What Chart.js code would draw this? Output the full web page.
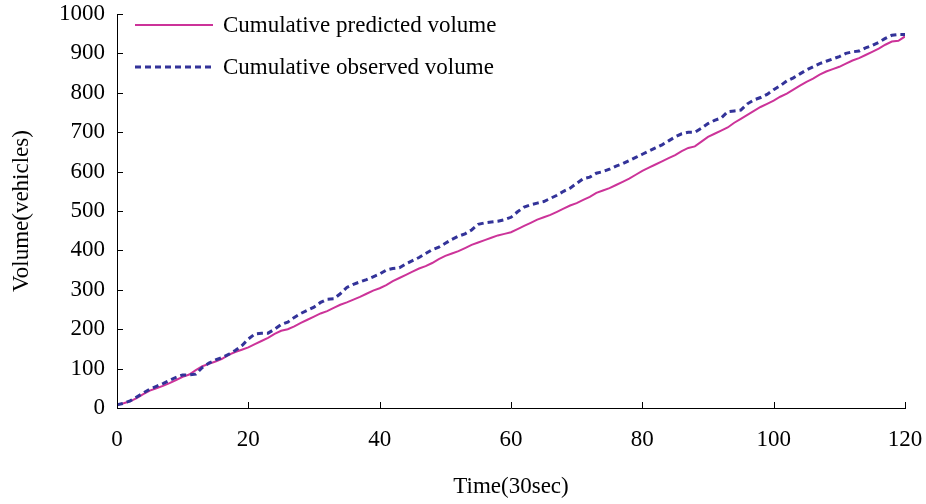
<!DOCTYPE html>
<html>
<head>
<meta charset="utf-8">
<script src="https://cdn.jsdelivr.net/npm/chart.js@4/dist/chart.umd.min.js"></script>
<style>
    body { margin: 0; background: #fff; }
    #graphe { display: block; }
</style>
</head>
<body>
<canvas id="graphe" width="926" height="504"></canvas>
<script>
// Series labels
var S_label_pred = 'Cumulative predicted volume';
var S_label_obs = 'Cumulative observed volume';

// One value per 30 sec step, t = 0 .. 120
var V_predicted = [
    8, 12, 17, 25, 35, 44, 50, 56, 63, 71,
    79, 85, 96, 106, 112, 118, 125, 135, 142, 148,
    154, 162, 170, 178, 188, 196, 200, 207, 216, 224,
    232, 240, 246, 254, 262, 268, 275, 282, 290, 298,
    304, 312, 322, 330, 338, 346, 354, 360, 368, 378,
    386, 392, 398, 406, 414, 420, 426, 432, 438, 442,
    446, 454, 462, 470, 478, 484, 490, 498, 506, 514,
    520, 528, 536, 546, 552, 558, 566, 574, 582, 592,
    602, 610, 618, 626, 634, 642, 652, 660, 664, 676,
    688, 696, 704, 712, 724, 734, 744, 754, 764, 772,
    780, 790, 798, 808, 818, 828, 836, 846, 854, 860,
    866, 874, 882, 888, 896, 904, 912, 922, 930, 932,
    943
];

var V_observed = [
    8, 12, 18, 28, 38, 48, 55, 62, 70, 78,
    84, 84, 86, 103, 114, 122, 128, 136, 146, 158,
    175, 188, 190, 190, 200, 212, 218, 230, 240, 248,
    256, 268, 276, 277, 290, 306, 314, 320, 326, 333,
    340, 350, 354, 356, 366, 374, 382, 392, 402, 408,
    418, 428, 436, 442, 452, 466, 470, 472, 474, 478,
    484, 498, 510, 516, 520, 524, 532, 540, 550, 558,
    570, 582, 586, 596, 600, 606, 614, 620, 628, 636,
    644, 652, 660, 668, 678, 688, 696, 700, 700, 710,
    722, 730, 736, 752, 754, 756, 772, 782, 788, 796,
    808, 818, 830, 838, 848, 858, 866, 874, 880, 886,
    892, 900, 904, 906, 914, 920, 928, 938, 946, 948,
    948
];

// Axes
var I_x_min = 0, I_x_max = 120, I_x_step = 20;
var I_y_min = 0, I_y_max = 1000, I_y_step = 100;
var S_x_title = 'Time(30sec)';
var S_y_title = 'Volume(vehicles)';

var S_font = '"Liberation Serif", "DejaVu Serif", serif';
var I_font_size = 23;

function F_toPoints(V_list){
    return V_list.map(function(I_val, I_index){ return { x: I_index, y: I_val }; });
}

// Ticks drawn inside the plot, like the original
var O_innerTicks = {
    id: 'innerTicks',
    afterDraw: function(O_chart){
        var O_ctx = O_chart.ctx;
        var O_xs = O_chart.scales.x;
        var O_ys = O_chart.scales.y;
        O_ctx.save();
        O_ctx.strokeStyle = '#000';
        O_ctx.lineWidth = 1;
        O_ctx.beginPath();
        O_xs.ticks.forEach(function(O_t){
            var I_px = Math.round(O_xs.getPixelForValue(O_t.value)) + 0.5;
            O_ctx.moveTo(I_px, O_xs.top);
            O_ctx.lineTo(I_px, O_xs.top - 6);
        });
        O_ys.ticks.forEach(function(O_t){
            var I_py = Math.round(O_ys.getPixelForValue(O_t.value)) + 0.5;
            O_ctx.moveTo(O_ys.right, I_py);
            O_ctx.lineTo(O_ys.right + 6, I_py);
        });
        O_ctx.stroke();
        O_ctx.restore();
    }
};

// Legend at the top left of the plot
var O_insideLegend = {
    id: 'insideLegend',
    afterDraw: function(O_chart){
        var O_ctx = O_chart.ctx;
        var O_area = O_chart.chartArea;
        var I_x0 = O_area.left + 18;
        var I_x1 = O_area.left + 96;
        var I_y = O_area.top + 11;
        O_ctx.save();
        O_ctx.font = I_font_size + 'px ' + S_font;
        O_ctx.textBaseline = 'middle';
        O_ctx.textAlign = 'left';
        O_chart.data.datasets.forEach(function(O_ds){
            O_ctx.strokeStyle = O_ds.borderColor;
            O_ctx.lineWidth = O_ds.borderWidth;
            O_ctx.setLineDash(O_ds.borderDash || []);
            O_ctx.beginPath();
            O_ctx.moveTo(I_x0, I_y);
            O_ctx.lineTo(I_x1, I_y);
            O_ctx.stroke();
            O_ctx.setLineDash([]);
            O_ctx.fillStyle = '#000';
            O_ctx.fillText(O_ds.label, I_x1 + 10, I_y + 1);
            I_y += 42;
        });
        O_ctx.restore();
    }
};

var O_ctx_graphe = document.getElementById('graphe').getContext('2d');

var O_graphe = new Chart(O_ctx_graphe, {
    type: 'line',
    data: {
        datasets: [
            {
                label: S_label_pred,
                data: F_toPoints(V_predicted),
                borderColor: '#cc3399',
                borderWidth: 2,
                pointRadius: 0,
                tension: 0,
                order: 1
            },
            {
                label: S_label_obs,
                data: F_toPoints(V_observed),
                borderColor: '#333399',
                borderWidth: 3,
                borderDash: [6, 4],
                pointRadius: 0,
                tension: 0,
                order: 0
            }
        ]
    },
    options: {
        responsive: false,
        animation: false,
        devicePixelRatio: 1,
        layout: { padding: { top: 14, right: 21, left: 0, bottom: 0 } },
        plugins: {
            legend: { display: false },
            tooltip: { enabled: false }
        },
        scales: {
            x: {
                type: 'linear',
                min: I_x_min,
                max: I_x_max,
                afterFit: function(O_s){
                    O_s.height = 96;
                    O_s.paddingLeft = 0;
                    O_s.paddingRight = 0;
                },
                ticks: {
                    stepSize: I_x_step,
                    padding: 18,
                    color: '#000',
                    maxRotation: 0,
                    font: { family: S_font, size: I_font_size }
                },
                grid: { display: false, drawTicks: false },
                border: { display: true, color: '#000', width: 1 },
                title: {
                    display: true,
                    text: S_x_title,
                    color: '#000',
                    padding: { top: 0, bottom: 3 },
                    font: { family: S_font, size: I_font_size }
                }
            },
            y: {
                type: 'linear',
                min: I_y_min,
                max: I_y_max,
                afterFit: function(O_s){
                    O_s.width = 117;
                    O_s.paddingTop = 0;
                    O_s.paddingBottom = 0;
                },
                ticks: {
                    stepSize: I_y_step,
                    padding: 12,
                    color: '#000',
                    font: { family: S_font, size: I_font_size },
                    callback: function(I_val){ return String(I_val); }
                },
                grid: { display: false, drawTicks: false },
                border: { display: true, color: '#000', width: 1 },
                title: {
                    display: true,
                    text: S_y_title,
                    color: '#000',
                    padding: { top: 8, bottom: 0 },
                    font: { family: S_font, size: I_font_size }
                }
            }
        }
    },
    plugins: [O_innerTicks, O_insideLegend]
});
</script>
</body>
</html>
